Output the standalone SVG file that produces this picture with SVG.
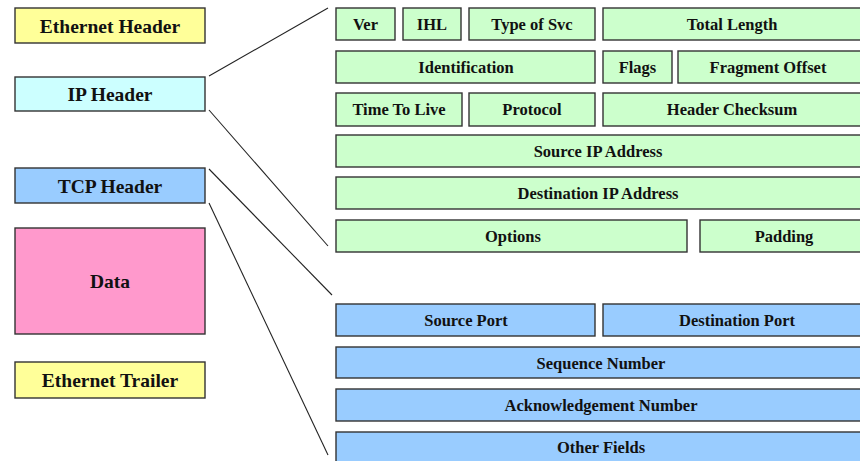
<svg xmlns="http://www.w3.org/2000/svg" width="860" height="461" viewBox="0 0 860 461">
  <style>
    rect { stroke: #333; stroke-width: 1.4; }
    .eth { fill: #FFFF99; }
    .ip { fill: #CCFFFF; }
    .tcp { fill: #99CCFF; }
    .data { fill: #FF99CC; }
    .ipf { fill: #CCFFCC; }
    text { font-family: "Liberation Serif", "Times New Roman", serif; font-weight: bold; fill: #111; text-anchor: middle; }
    .big { font-size: 19.5px; }
    .fld { font-size: 16.5px; }
    .conn line { stroke: #222; stroke-width: 1.1; }
  </style>

  <!-- Frame components -->
  <g id="ethernet-header"><rect class="eth" x="15" y="8" width="190" height="35"/><text class="big" x="110" y="32.5">Ethernet Header</text></g>
  <g id="ip-header"><rect class="ip" x="15" y="77" width="190" height="34"/><text class="big" x="110" y="101">IP Header</text></g>
  <g id="tcp-header"><rect class="tcp" x="15" y="168" width="190" height="35"/><text class="big" x="110" y="192.5">TCP Header</text></g>
  <g id="data"><rect class="data" x="15" y="228" width="190" height="106"/><text class="big" x="110" y="288">Data</text></g>
  <g id="ethernet-trailer"><rect class="eth" x="15" y="362" width="190" height="36"/><text class="big" x="110" y="387">Ethernet Trailer</text></g>

  <!-- IP header fields -->
  <g id="ip-ver"><rect class="ipf" x="336" y="8" width="59" height="32"/><text class="fld" x="365.5" y="29.8">Ver</text></g>
  <g id="ip-ihl"><rect class="ipf" x="403" y="8" width="58" height="32"/><text class="fld" x="432" y="29.8">IHL</text></g>
  <g id="ip-tos"><rect class="ipf" x="469" y="8" width="126" height="32"/><text class="fld" x="532" y="29.8">Type of Svc</text></g>
  <g id="ip-total-length"><rect class="ipf" x="603" y="8" width="260" height="32"/><text class="fld" x="732" y="29.8">Total Length</text></g>

  <g id="ip-identification"><rect class="ipf" x="336" y="51" width="259" height="32"/><text class="fld" x="466" y="72.8">Identification</text></g>
  <g id="ip-flags"><rect class="ipf" x="603" y="51" width="69" height="32"/><text class="fld" x="637.5" y="72.8">Flags</text></g>
  <g id="ip-fragment-offset"><rect class="ipf" x="678" y="51" width="185" height="32"/><text class="fld" x="768" y="72.8">Fragment Offset</text></g>

  <g id="ip-ttl"><rect class="ipf" x="336" y="93" width="126" height="33"/><text class="fld" x="399" y="115">Time To Live</text></g>
  <g id="ip-protocol"><rect class="ipf" x="469" y="93" width="126" height="33"/><text class="fld" x="532" y="115">Protocol</text></g>
  <g id="ip-checksum"><rect class="ipf" x="603" y="93" width="260" height="33"/><text class="fld" x="732" y="115">Header Checksum</text></g>

  <g id="ip-source"><rect class="ipf" x="336" y="135" width="527" height="32"/><text class="fld" x="598" y="157">Source IP Address</text></g>
  <g id="ip-destination"><rect class="ipf" x="336" y="177" width="527" height="32"/><text class="fld" x="598" y="199">Destination IP Address</text></g>

  <g id="ip-options"><rect class="ipf" x="336" y="220" width="351" height="32"/><text class="fld" x="513" y="242">Options</text></g>
  <g id="ip-padding"><rect class="ipf" x="700" y="220" width="163" height="32"/><text class="fld" x="784" y="242">Padding</text></g>

  <!-- TCP header fields -->
  <g id="tcp-source-port"><rect class="tcp" x="336" y="304" width="259" height="32"/><text class="fld" x="466" y="326">Source Port</text></g>
  <g id="tcp-destination-port"><rect class="tcp" x="603" y="304" width="260" height="32"/><text class="fld" x="737" y="326">Destination Port</text></g>
  <g id="tcp-sequence"><rect class="tcp" x="336" y="347" width="527" height="31"/><text class="fld" x="601" y="368.5">Sequence Number</text></g>
  <g id="tcp-ack"><rect class="tcp" x="336" y="389" width="527" height="32"/><text class="fld" x="601" y="411">Acknowledgement Number</text></g>
  <g id="tcp-other"><rect class="tcp" x="336" y="432" width="527" height="34"/><text class="fld" x="601" y="453">Other Fields</text></g>

  <!-- Expansion connectors -->
  <g class="conn" id="connectors">
    <line x1="209" y1="76" x2="328" y2="8"/>
    <line x1="209" y1="110" x2="328" y2="246"/>
    <line x1="209" y1="169" x2="332" y2="295"/>
    <line x1="209" y1="203" x2="328" y2="455"/>
  </g>
</svg>
